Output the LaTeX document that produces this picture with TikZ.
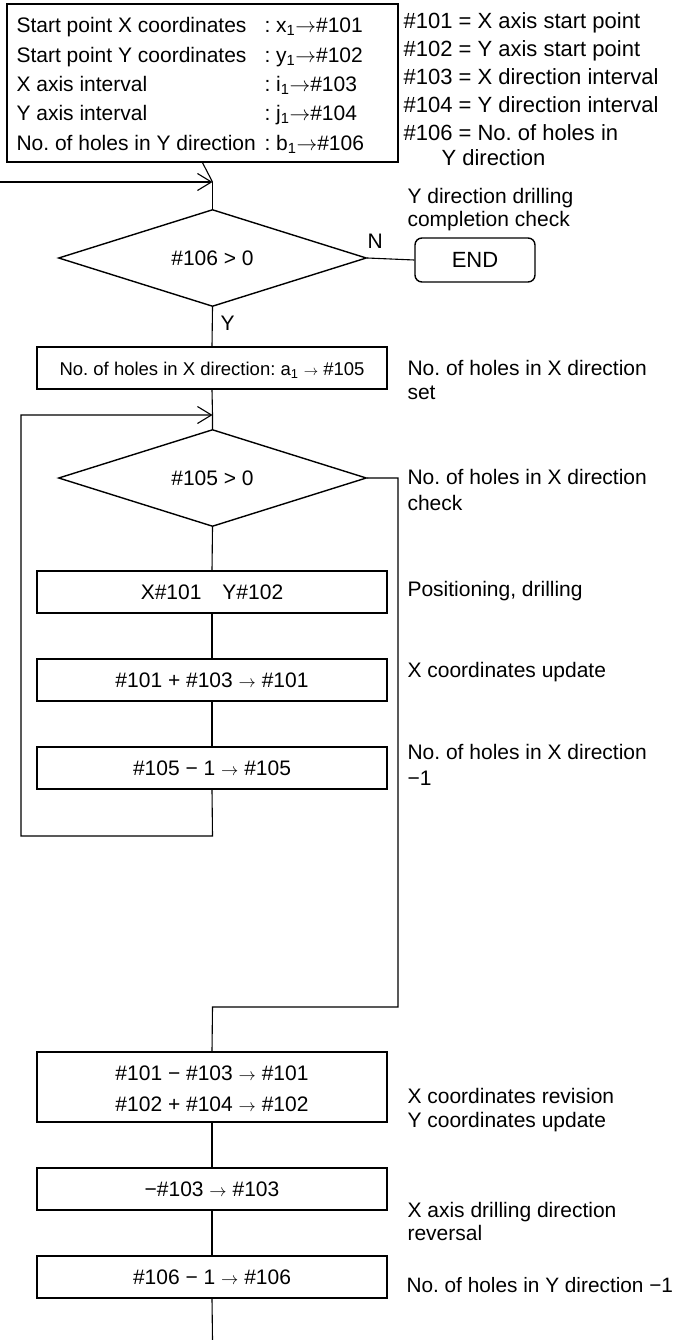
\documentclass[tikz,border=0pt]{standalone}
\usepackage{fontspec}
\setmainfont{Liberation Sans}
\usetikzlibrary{shapes.geometric,arrows.meta}
\frenchspacing
\newcommand{\smarr}{{\fontsize{17}{17}\selectfont$\rightarrow$}}
\newcommand{\bgarr}{$\rightarrow$}
\begin{document}
\begin{tikzpicture}[x=1pt,y=-1pt,
  font=\fontsize{21}{25}\selectfont,
  line width=1.1pt,
  txt/.style={inner sep=0pt, text height=15pt, text depth=0pt, anchor=west},
  note/.style={txt, font=\fontsize{22}{26}\selectfont},
  box/.style={draw, line width=1.4pt, rectangle, minimum width=350pt, minimum height=42pt, inner sep=0pt, text height=15pt, text depth=0pt},
  dia/.style={draw, line width=1.4pt, diamond, aspect=3.14, minimum width=308pt, minimum height=97pt, inner sep=0pt, text height=15pt, text depth=0pt},
  arr/.style={-{Straight Barb[length=14pt,width=17pt,line width=1.1pt]}}]
\useasboundingbox (0,0) rectangle (674,1340);

% initial settings box
\node[draw, line width=1.4pt, rectangle, minimum width=391pt, minimum height=158pt, inner sep=0pt] (init) at (202.5,83) {};
\node[txt] (r1) at (16,25) {Start point X coordinates};
\node[txt] (r2) at (16,55) {Start point Y coordinates};
\node[txt] (r3) at (16,84) {X axis interval};
\node[txt] (r4) at (16,113) {Y axis interval};
\node[txt] (r5) at (16,143) {No.\ of holes in Y direction};
\node[txt] (v1) at (264,25) {: x\textsubscript{1}\bgarr\#101};
\node[txt] (v2) at (264,55) {: y\textsubscript{1}\bgarr\#102};
\node[txt] (v3) at (264,84) {: i\textsubscript{1}\bgarr\#103};
\node[txt] (v4) at (264,113) {: j\textsubscript{1}\bgarr\#104};
\node[txt] (v5) at (264,143) {: b\textsubscript{1}\bgarr\#106};

% notes
\node[note] (n1) at (403,21) {\#101 = X axis start point};
\node[note] (n2) at (403,49) {\#102 = Y axis start point};
\node[note] (n3) at (403,77) {\#103 = X direction interval};
\node[note] (n4) at (403,105) {\#104 = Y direction interval};
\node[note] (n5) at (403,133) {\#106 = No.\ of holes in};
\node[note] (n6) at (441,158) {Y direction};

% first decision
\coordinate (inL) at (0,182);
\coordinate (j1) at (212.5,182);
\node[dia] (d1) at (212.5,258) {\#106 > 0};
\node[draw, line width=1.4pt, rectangle, rounded corners=7pt, minimum width=120pt, minimum height=44pt, inner sep=0pt, text height=15pt, text depth=0pt, font=\fontsize{22}{26}\selectfont] (endn) at (475,260) {END};
\node[txt] (t1a) at (407,196) {Y direction drilling};
\node[txt] (t1b) at (407,219) {completion check};
\node[txt] (lN) at (367,241) {N};
\node[txt] (lY) at (220,323) {Y};

\draw (init.south) -- (j1);
\draw[arr] (inL) -- (j1);
\draw (j1) -- (d1.north);
\draw (d1.east) -- (endn.west);

% a1 box
\node[box, font=\fontsize{18.5}{22}\selectfont] (b2) at (212,368) {No.\ of holes in X direction: a\textsubscript{1} {\fontsize{15}{15}\selectfont$\rightarrow$} \#105};
\node[txt] (t2a) at (407,368) {No.\ of holes in X direction};
\node[txt] (t2b) at (407,392) {set};
\draw (d1.south) -- (b2.north);

% inner loop
\coordinate (j2) at (212.5,415);
\coordinate (lt) at (21,415);
\node[dia] (d2) at (212.5,478) {\#105 > 0};
\draw (b2.south) -- (j2) -- (d2.north);
\node[txt] (t3a) at (407,477) {No.\ of holes in X direction};
\node[txt] (t3b) at (407,503) {check};

\node[box] (b3) at (212,592) {X\#101\quad Y\#102};
\node[box] (b4) at (212,680) {\#101 + \#103 \smarr\ \#101};
\node[box] (b5) at (212,768) {\#105 − 1 \smarr\ \#105};
\node[txt] (t4) at (407,589) {Positioning, drilling};
\node[txt] (t5) at (407,670) {X coordinates update};
\node[txt] (t6a) at (407,752) {No.\ of holes in X direction};
\node[txt] (t6b) at (407,778) {−1};

\draw (d2.south) -- (b3.north);
\draw (b3.south) -- (b4.north);
\draw (b4.south) -- (b5.north);
\coordinate (lb) at (212.5,836);
\draw[arr] (b5.south) -- (lb) -| (lt) -- (j2);

% exit of inner loop
\coordinate (rx) at (398,478);
\coordinate (rb) at (398,1007);
\coordinate (cb) at (212.5,1007);
\node[draw, line width=1.4pt, rectangle, minimum width=350pt, minimum height=70pt, inner sep=0pt] (b6) at (212,1087) {};
\node[txt, anchor=center] (b6a) at (212,1073) {\#101 − \#103 \smarr\ \#101};
\node[txt, anchor=center] (b6b) at (212,1104) {\#102 + \#104 \smarr\ \#102};
\node[txt] (t7a) at (407,1096) {X coordinates revision};
\node[txt] (t7b) at (407,1120) {Y coordinates update};
\draw (d2.east) -- (rx) -- (rb) -- (cb) -- (b6.north);

\node[box] (b7) at (212,1189) {−\#103 \smarr\ \#103};
\node[txt] (t8a) at (407,1210) {X axis drilling direction};
\node[txt] (t8b) at (407,1233) {reversal};
\node[box] (b8) at (212,1277) {\#106 − 1 \smarr\ \#106};
\node[txt, font=\fontsize{20.8}{24}\selectfont] (t9) at (406,1285) {No.\ of holes in Y direction −1};
\coordinate (bot) at (212.5,1340);
\draw (b6.south) -- (b7.north);
\draw (b7.south) -- (b8.north);
\draw (b8.south) -- (bot);
\end{tikzpicture}
\end{document}
